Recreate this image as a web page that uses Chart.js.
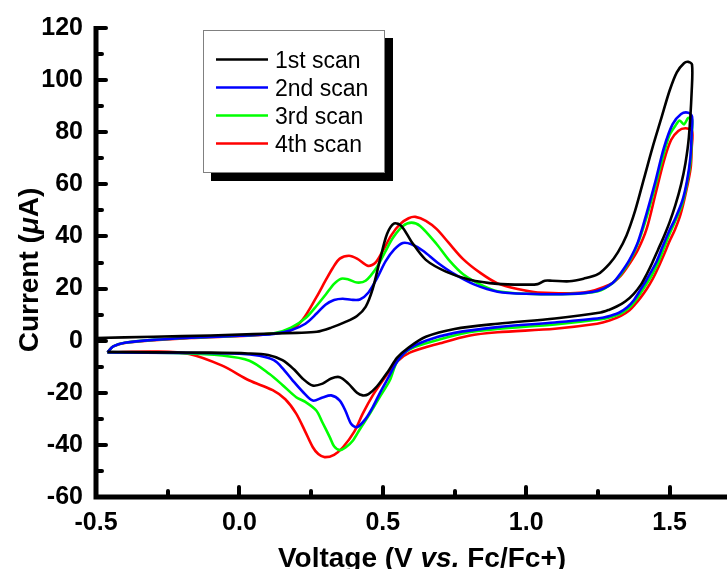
<!DOCTYPE html>
<html>
<head>
<meta charset="utf-8">
<title>Cyclic voltammetry</title>
<script src="https://cdn.jsdelivr.net/npm/chart.js@4.4.1/dist/chart.umd.min.js"></script>
<style>
  html, body { margin: 0; padding: 0; background: #fff; }
  #wrap { width: 727px; height: 569px; }
</style>
</head>
<body>
<div id="wrap"><canvas id="cv" width="727" height="569"></canvas></div>
<script>
// Scan labels and colours
const scanNames = ['1st scan', '2nd scan', '3rd scan', '4th scan'];
const scanColors = ['#000000', '#0000ff', '#00ff00', '#ff0000'];

// Axis ranges / tick steps
const xRange = [-0.5, 1.7];
const yRange = [-60, 120];
const xStep = 0.5;
const yStep = 20;

// Scan 1: potential (V) and current (uA), forward then reverse sweep
const scan1V = [-0.50, -0.30, -0.10, 0.05, 0.20, 0.27, 0.32, 0.37, 0.41, 0.44, 0.465, 0.49, 0.515, 0.54, 0.565, 0.60, 0.65, 0.72, 0.80, 0.90, 1.00, 1.04, 1.065, 1.09, 1.15, 1.20, 1.25, 1.29, 1.32, 1.35, 1.38, 1.41, 1.44, 1.47, 1.50, 1.525, 1.55, 1.565, 1.578,
  1.577, 1.567, 1.555, 1.54, 1.52, 1.50, 1.48, 1.46, 1.44, 1.42, 1.40, 1.375, 1.345, 1.317, 1.29, 1.259, 1.10, 0.90, 0.75, 0.65, 0.59, 0.55, 0.52, 0.48, 0.45, 0.43, 0.41, 0.38, 0.35, 0.32, 0.29, 0.255, 0.22, 0.19, 0.15, 0.10, 0.03, -0.10, -0.30, -0.46];
const scan1I = [1.0, 1.5, 2.0, 2.5, 3.0, 3.4, 5.0, 7.2, 9.5, 13, 20, 31, 41, 45, 44, 38, 31, 26.5, 23.5, 21.8, 21.5, 21.7, 23, 23, 22.8, 23.8, 25.5, 29.5, 34, 40.5, 50, 62, 74, 85, 96, 103, 106.5, 107, 106,
  96, 78, 68, 60, 52, 45.5, 40, 35, 30, 25.5, 21.5, 18, 15, 13.2, 11.9, 10.8, 8.5, 6.5, 4.5, 1.5, -2.6, -6.5, -11.5, -17.5, -20.5, -21, -20, -16.5, -14, -14.5, -16.5, -17.2, -14.5, -11, -7.5, -5.5, -4.9, -4.6, -4.5, -4.3];

// Scan 2
const scan2V = [-0.46, -0.44, -0.40, -0.30, -0.15, 0.00, 0.12, 0.18, 0.23, 0.27, 0.30, 0.33, 0.36, 0.39, 0.42, 0.45, 0.48, 0.51, 0.54, 0.57, 0.60, 0.64, 0.69, 0.75, 0.82, 0.90, 1.00, 1.15, 1.25, 1.30, 1.33, 1.36, 1.39, 1.42, 1.45, 1.48, 1.51, 1.54, 1.565, 1.578,
  1.577, 1.572, 1.56, 1.544, 1.52, 1.498, 1.475, 1.455, 1.433, 1.415, 1.398, 1.375, 1.352, 1.325, 1.294, 1.259, 1.10, 0.90, 0.75, 0.65, 0.59, 0.55, 0.52, 0.49, 0.465, 0.44, 0.41, 0.39, 0.37, 0.35, 0.32, 0.29, 0.256, 0.22, 0.186, 0.15, 0.12, 0.07, 0.00, -0.20, -0.46];
const scan2I = [-4.5, -2.2, -0.8, 0.3, 1.2, 1.9, 2.6, 4.0, 6.5, 10.5, 13.8, 15.6, 16.1, 15.7, 15.8, 18.5, 24, 30.5, 35, 37.5, 37, 34.5, 30, 25.5, 21.5, 18.8, 18, 17.9, 19.2, 22, 26, 31, 38, 49, 61, 74, 83, 87, 87.5, 86,
  80, 70, 61, 53.6, 47, 42, 36, 30.5, 26, 22.5, 19.5, 15.5, 12.8, 10.8, 9.6, 8.7, 7, 5.2, 3, 0, -3.3, -8, -14, -20, -25.5, -30, -33.2, -32, -27, -23, -21, -21.8, -23, -19.5, -15.3, -10.5, -7.5, -5.8, -5.0, -4.7, -4.5];

// Scan 3
const scan3V = [-0.46, -0.44, -0.40, -0.30, -0.15, 0.00, 0.12, 0.18, 0.233, 0.27, 0.303, 0.33, 0.355, 0.38, 0.41, 0.44, 0.478, 0.51, 0.536, 0.57, 0.60, 0.63, 0.688, 0.73, 0.78, 0.85, 0.90, 1.00, 1.15, 1.25, 1.30, 1.33, 1.36, 1.39, 1.42, 1.45, 1.48, 1.50, 1.52, 1.535, 1.55, 1.565, 1.578,
  1.577, 1.573, 1.56, 1.544, 1.52, 1.50, 1.478, 1.458, 1.437, 1.418, 1.40, 1.378, 1.355, 1.328, 1.297, 1.26, 1.10, 0.90, 0.80, 0.70, 0.594, 0.55, 0.524, 0.49, 0.455, 0.42, 0.396, 0.37, 0.35, 0.33, 0.315, 0.29, 0.268, 0.23, 0.198, 0.15, 0.105, 0.035, -0.06, -0.20, -0.46];
const scan3I = [-4.5, -2.2, -0.8, 0.3, 1.2, 1.9, 2.8, 5, 8.9, 13.5, 18, 21.8, 23.8, 23.5, 22.3, 23, 28, 34.5, 39.6, 44, 45.3, 44, 37, 31, 25.5, 21, 19, 18, 17.9, 19, 22, 25.5, 30.5, 37.5, 47.5, 59.5, 72, 79, 82.5, 84.5, 83, 85.5, 85,
  79, 69, 60, 52.5, 46, 41, 35, 29.5, 25, 21.5, 18.5, 15, 12.3, 10.3, 9.1, 8.2, 6.2, 4.5, 3.2, 0.5, -3.3, -8, -15.3, -21.5, -28, -34, -38.3, -41, -42, -40.5, -37, -31.5, -26.8, -23.5, -21.7, -17, -12.8, -7.7, -5.7, -4.8, -4.5];

// Scan 4
const scan4V = [-0.46, -0.44, -0.385, -0.175, 0.03, 0.12, 0.175, 0.22, 0.268, 0.30, 0.326, 0.35, 0.382, 0.41, 0.449, 0.475, 0.50, 0.53, 0.56, 0.59, 0.614, 0.65, 0.688, 0.73, 0.78, 0.84, 0.90, 0.97, 1.04, 1.20, 1.29, 1.33, 1.36, 1.39, 1.42, 1.45, 1.48, 1.505, 1.53, 1.555, 1.578,
  1.577, 1.573, 1.555, 1.538, 1.518, 1.50, 1.48, 1.46, 1.44, 1.42, 1.40, 1.38, 1.36, 1.33, 1.29, 1.247, 1.10, 0.90, 0.80, 0.70, 0.594, 0.55, 0.50, 0.465, 0.43, 0.40, 0.361, 0.33, 0.297, 0.275, 0.256, 0.23, 0.198, 0.16, 0.116, 0.035, -0.06, -0.175, -0.29, -0.46];
const scan4I = [-4.5, -2.2, -0.6, 1.0, 1.9, 2.8, 3.8, 8, 16.6, 23, 28, 31.5, 32.6, 31.5, 28.7, 30, 34.5, 40.5, 44.7, 47, 47.5, 46, 42.8, 37.5, 31.3, 26, 22, 19.8, 18.5, 18.5, 21.5, 25, 29.5, 35, 43, 56, 69, 77, 80.5, 81.5, 80.5,
  74, 66, 56, 48.5, 42.5, 38.3, 33, 28, 23.5, 19.8, 16.7, 14, 11.7, 9.5, 7.7, 6.5, 4.6, 3.2, 1.9, -1, -4.6, -8, -15.3, -21, -28, -35, -40.9, -43.8, -44.7, -43.5, -40.9, -35, -28, -22.5, -19, -15.3, -9.6, -5.1, -4.2, -4.5];

const scans = [[scan1V, scan1I], [scan2V, scan2I], [scan3V, scan3I], [scan4V, scan4I]];

const FONT = '"Liberation Sans", Arial, sans-serif';

function toPoints(vs, is) {
  return vs.map((v, k) => ({ x: v, y: is[k] }));
}

// Axis lines plus inward major/minor tick marks
const axisDecor = {
  id: 'axisDecor',
  afterDraw(chart) {
    const { ctx, chartArea: ca, scales: { x, y } } = chart;
    ctx.save();
    ctx.strokeStyle = '#000';
    ctx.lineWidth = 5;
    ctx.lineCap = 'butt';
    ctx.beginPath();
    ctx.moveTo(ca.left, ca.top - 2);
    ctx.lineTo(ca.left, ca.bottom);
    ctx.lineTo(ca.right, ca.bottom);
    ctx.stroke();

    ctx.lineWidth = 4;
    ctx.lineCap = 'round';
    for (let v = yRange[0]; v <= yRange[1]; v += yStep / 2) {
      const py = Math.round(y.getPixelForValue(v));
      const len = (v % yStep === 0) ? 10 : 6;
      ctx.beginPath();
      ctx.moveTo(ca.left, py);
      ctx.lineTo(ca.left + len, py);
      ctx.stroke();
    }
    for (let k = 0; ; k++) {
      const v = xRange[0] + k * xStep / 2;
      if (v > 1.5 + 1e-9) break;
      const px = Math.round(x.getPixelForValue(v));
      const len = (k % 2 === 0) ? 10 : 6;
      ctx.beginPath();
      ctx.moveTo(px, ca.bottom);
      ctx.lineTo(px, ca.bottom - len);
      ctx.stroke();
    }
    ctx.restore();
  }
};

// Draw a run of text pieces with different fonts one after another
function drawRuns(ctx, runs, cx, cy) {
  let total = 0;
  runs.forEach(r => { ctx.font = r.font; r.w = ctx.measureText(r.text).width; total += r.w; });
  let xPos = cx - total / 2;
  runs.forEach(r => {
    ctx.font = r.font;
    ctx.fillText(r.text, xPos, cy);
    xPos += r.w;
  });
}

const axisTitles = {
  id: 'axisTitles',
  afterDraw(chart) {
    const { ctx } = chart;
    const b = 'bold 28px ' + FONT;
    const bi = 'italic bold 28px ' + FONT;
    ctx.save();
    ctx.fillStyle = '#000';
    ctx.textAlign = 'left';
    ctx.textBaseline = 'alphabetic';
    drawRuns(ctx, [
      { text: 'Voltage (V ', font: b },
      { text: 'vs.', font: bi },
      { text: ' Fc/Fc+)', font: b }
    ], 422, 567);

    ctx.translate(38, 270);
    ctx.rotate(-Math.PI / 2);
    drawRuns(ctx, [
      { text: 'Current (', font: b },
      { text: 'μ', font: bi },
      { text: 'A)', font: b }
    ], 0, 0);
    ctx.restore();
  }
};

// Boxed legend with a solid drop shadow
const boxLegend = {
  id: 'boxLegend',
  afterDraw(chart) {
    const { ctx } = chart;
    const bx = 203, by = 30, bw = 182, bh = 143, sh = 8;
    ctx.save();
    ctx.fillStyle = '#000';
    ctx.fillRect(bx + sh, by + sh, bw, bh);
    ctx.fillStyle = '#fff';
    ctx.fillRect(bx, by, bw, bh);
    ctx.strokeStyle = '#808080';
    ctx.lineWidth = 1;
    ctx.strokeRect(bx + 0.5, by + 0.5, bw - 1, bh - 1);

    ctx.font = '23px ' + FONT;
    ctx.textBaseline = 'alphabetic';
    ctx.textAlign = 'left';
    chart.data.datasets.forEach((ds, k) => {
      const ry = 59.5 + k * 28;
      ctx.strokeStyle = ds.borderColor;
      ctx.lineWidth = 2.5;
      ctx.beginPath();
      ctx.moveTo(216, ry);
      ctx.lineTo(268, ry);
      ctx.stroke();
      ctx.fillStyle = '#000';
      ctx.fillText(ds.label, 275, ry + 8.3);
    });
    ctx.restore();
  }
};

new Chart(document.getElementById('cv').getContext('2d'), {
  type: 'scatter',
  data: {
    datasets: scans.map((s, k) => ({
      label: scanNames[k],
      data: toPoints(s[0], s[1]),
      borderColor: scanColors[k],
      backgroundColor: scanColors[k],
      borderWidth: 2.6,
      showLine: true,
      pointRadius: 0,
      tension: 0.3,
      fill: false
    }))
  },
  options: {
    responsive: false,
    animation: false,
    devicePixelRatio: 1,
    layout: { padding: { top: 25, right: 0, left: 0, bottom: 0 } },
    plugins: {
      legend: { display: false },
      tooltip: { enabled: false }
    },
    scales: {
      x: {
        type: 'linear',
        min: xRange[0],
        max: xRange[1],
        afterFit(scale) { scale.height = 72; },
        grid: { display: false, drawTicks: false },
        border: { display: false },
        ticks: {
          stepSize: xStep,
          includeBounds: false,
          padding: 11,
          color: '#000',
          font: { family: FONT, size: 25, weight: 'bold' },
          maxRotation: 0,
          callback: v => v.toFixed(1)
        }
      },
      y: {
        type: 'linear',
        min: yRange[0],
        max: yRange[1],
        afterFit(scale) { scale.width = 96; },
        grid: { display: false, drawTicks: false },
        border: { display: false },
        ticks: {
          stepSize: yStep,
          padding: 13,
          color: '#000',
          font: { family: FONT, size: 25, weight: 'bold' },
          callback: v => String(v)
        }
      }
    }
  },
  plugins: [axisDecor, axisTitles, boxLegend]
});
</script>
</body>
</html>
